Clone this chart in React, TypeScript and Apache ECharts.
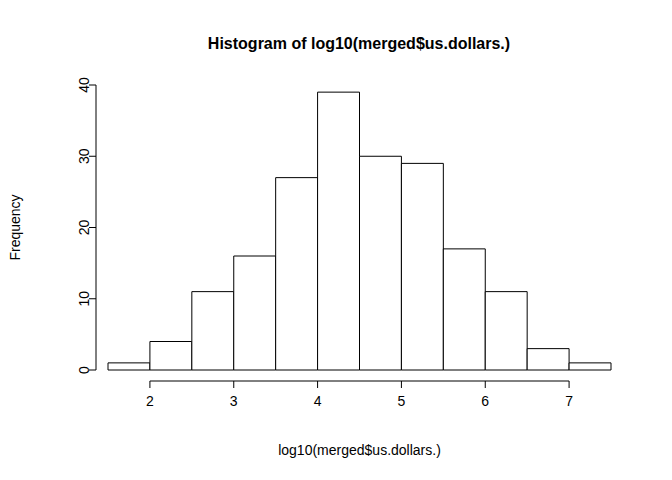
import * as echarts from "echarts";
import { useEffect, useRef } from "react";

const binStarts = [1.5, 2, 2.5, 3, 3.5, 4, 4.5, 5, 5.5, 6, 6.5, 7];
const binWidth = 0.5;
const counts = [1, 4, 11, 16, 27, 39, 30, 29, 17, 11, 3, 1];
const xTicks = [2, 3, 4, 5, 6, 7];
const yTicks = [0, 10, 20, 30, 40];

const FONT = "Liberation Sans, Arial, sans-serif";

export default function App() {
  const ref = useRef<HTMLDivElement>(null);

  useEffect(() => {
    const el = ref.current;
    if (!el) return;
    const chart = echarts.init(el, null, { renderer: "svg" });
    const bars = binStarts.map((s, i) => [s, s + binWidth, counts[i]]);
    chart.setOption({
      animation: false,
      backgroundColor: "#ffffff",
      title: {
        text: "Histogram of log10(merged$us.dollars.)",
        left: 354,
        textAlign: "center",
        top: 30,
        textStyle: { fontFamily: FONT, fontSize: 16, fontWeight: "bold", color: "#000" },
      },
      grid: { left: 98, right: 61, top: 85, bottom: 110 },
      xAxis: {
        type: "value",
        min: 1.5,
        max: 7.5,
        offset: 11,
        splitLine: { show: false },
        axisLine: { show: false },
        axisTick: { show: false },
        axisLabel: { customValues: xTicks, color: "#000", fontFamily: FONT, fontSize: 14, margin: 13 },
        name: "log10(merged$us.dollars.)",
        nameLocation: "middle",
        nameGap: 62,
        nameTextStyle: { color: "#000", fontFamily: FONT, fontSize: 14 },
      },
      yAxis: {
        type: "value",
        min: 0,
        max: 40,
        offset: 12,
        splitLine: { show: false },
        axisLine: { show: false },
        axisTick: { show: false },
        axisLabel: { customValues: yTicks, rotate: 90, color: "#000", fontFamily: FONT, fontSize: 14, margin: 5 },
        name: "Frequency",
        nameLocation: "middle",
        nameGap: 74,
        nameRotate: 90,
        nameTextStyle: { color: "#000", fontFamily: FONT, fontSize: 14 },
      },
      series: [
        {
          type: "custom",
          silent: true,
          data: bars,
          renderItem: (_p: any, api: any) => {
            const a = api.coord([api.value(0), api.value(2)]);
            const b = api.coord([api.value(1), 0]);
            return {
              type: "rect",
              shape: { x: a[0], y: a[1], width: b[0] - a[0], height: b[1] - a[1] },
              style: { fill: "#fff", stroke: "#000", lineWidth: 1 },
            };
          },
        },
        {
          type: "custom",
          silent: true,
          clip: false,
          data: [[0]],
          renderItem: (_p: any, api: any) => {
            const st = { stroke: "#000", lineWidth: 1 };
            const x0 = api.coord([xTicks[0], 0]);
            const x1 = api.coord([xTicks[xTicks.length - 1], 0]);
            const y0 = api.coord([1.5, yTicks[0]]);
            const y1 = api.coord([1.5, yTicks[yTicks.length - 1]]);
            const yb = x0[1] + 11;
            const xl = y0[0] - 12;
            const children: any[] = [
              { type: "line", shape: { x1: x0[0], y1: yb, x2: x1[0], y2: yb }, style: st },
              { type: "line", shape: { x1: xl, y1: y0[1], x2: xl, y2: y1[1] }, style: st },
            ];
            xTicks.forEach((t) => {
              const p = api.coord([t, 0]);
              children.push({ type: "line", shape: { x1: p[0], y1: yb, x2: p[0], y2: yb + 7 }, style: st });
            });
            yTicks.forEach((t) => {
              const p = api.coord([1.5, t]);
              children.push({ type: "line", shape: { x1: xl, y1: p[1], x2: xl - 7, y2: p[1] }, style: st });
            });
            return { type: "group", children };
          },
        },
      ],
    });
    return () => chart.dispose();
  }, []);

  return <div ref={ref} style={{ position: "fixed", left: 0, top: 0, width: 672, height: 480 }} />;
}
